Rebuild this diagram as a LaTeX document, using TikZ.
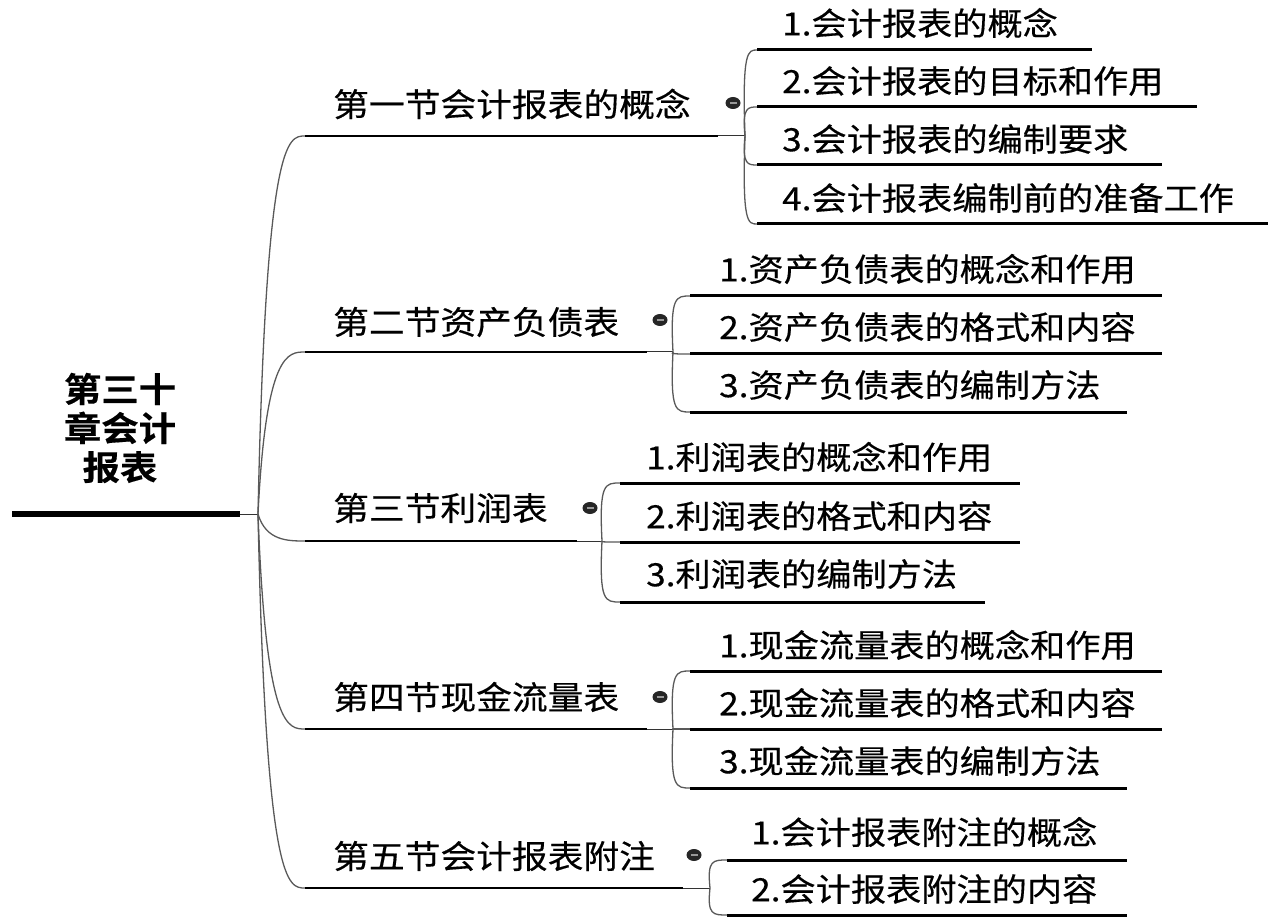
\documentclass[tikz,border=0pt]{standalone}
\usepackage{fontspec}
\setmainfont{Noto Sans CJK SC}[BoldFont={Noto Sans CJK SC Bold}, FakeStretch=1.1, FakeBold=0.4]
\usepackage{tikz}
\usetikzlibrary{calc}
\usetikzlibrary{shapes.geometric}
\newcommand{\limb}[2]{\draw[limb] (#1) .. controls ($(#1 |- #2)+(8,0)$) and ($(#2)+(-17,0)$) .. (#2);}
\newcommand{\twig}[2]{\draw[twig] (#1) .. controls ($(#1 |- #2)+(-3,0)$) and ($(#1 |- #2)+(3,0)$) .. (#2);}
\tikzset{
  rootlbl/.style={align=center, inner sep=0pt, font=\fontsize{34}{39}\selectfont\bfseries},
  sect/.style={anchor=west, inner sep=0pt, font=\fontsize{32.5}{33}\selectfont},
  leaf/.style={anchor=west, inner sep=0pt, font=\fontsize{32}{32}\selectfont},
  trunk/.style={line width=6pt},
  stub/.style={line width=1pt, draw=black!80},
  limb/.style={line width=1.3pt, draw=black!65},
  twig/.style={line width=1.3pt, draw=black!65},
  sline/.style={line width=2pt},
  cline/.style={line width=3pt},
  fold/.style={ellipse, minimum width=15pt, minimum height=12pt, inner sep=0pt, fill=black!85,
    path picture={\draw[black!40, line width=1.3pt] ([xshift=-3.5pt]path picture bounding box.center) -- ([xshift=3.5pt]path picture bounding box.center);}}
}
\begin{document}
\begin{tikzpicture}[x=1pt,y=-1pt]
\useasboundingbox (0,0) rectangle (1272,917);
\node[rootlbl] (root) at (120,428) {第三十\\章会计\\报表};
\coordinate (r0) at (12,514);
\coordinate (r1) at (240,514);
\coordinate (rj) at (258,514);
\draw[trunk] (r0) -- (r1);
\draw[stub] (r1) -- (rj);

% first section
\node[sect] (s1) at (333,104) {第一节会计报表的概念};
\node[fold] (f1) at (733,103) {};
\coordinate (s1l) at (305,136);
\coordinate (s1r) at (718,136);
\coordinate (s1j) at (745,136);
\limb{rj}{s1l}
\draw[sline] (s1l) -- (s1r);
\draw[stub] (s1r) -- (s1j);
\node[leaf] (s1a) at (782,23) {1.会计报表的概念};
\node[leaf] (s1b) at (782,81) {2.会计报表的目标和作用};
\node[leaf] (s1c) at (782,139) {3.会计报表的编制要求};
\node[leaf] (s1d) at (782,198) {4.会计报表编制前的准备工作};
\coordinate (s1al) at (757,50);  \coordinate (s1ar) at (1092,50);
\coordinate (s1bl) at (757,107); \coordinate (s1br) at (1197,107);
\coordinate (s1cl) at (757,165); \coordinate (s1cr) at (1162,165);
\coordinate (s1dl) at (757,224); \coordinate (s1dr) at (1268,224);
\twig{s1j}{s1al} \twig{s1j}{s1bl} \twig{s1j}{s1cl} \twig{s1j}{s1dl}
\draw[cline] (s1al) -- (s1ar);
\draw[cline] (s1bl) -- (s1br);
\draw[cline] (s1cl) -- (s1cr);
\draw[cline] (s1dl) -- (s1dr);

% second section
\node[sect] (s2) at (333,322) {第二节资产负债表};
\node[fold] (f2) at (660,320) {};
\coordinate (s2l) at (305,352);
\coordinate (s2r) at (647,352);
\coordinate (s2j) at (673,352);
\limb{rj}{s2l}
\draw[sline] (s2l) -- (s2r);
\draw[stub] (s2r) -- (s2j);
\node[leaf] (s2a) at (719,269) {1.资产负债表的概念和作用};
\node[leaf] (s2b) at (719,327) {2.资产负债表的格式和内容};
\node[leaf] (s2c) at (719,385) {3.资产负债表的编制方法};
\coordinate (s2al) at (690,296); \coordinate (s2ar) at (1162,296);
\coordinate (s2bl) at (690,354); \coordinate (s2br) at (1162,354);
\coordinate (s2cl) at (690,412); \coordinate (s2cr) at (1127,412);
\twig{s2j}{s2al} \twig{s2j}{s2bl} \twig{s2j}{s2cl}
\draw[cline] (s2al) -- (s2ar);
\draw[cline] (s2bl) -- (s2br);
\draw[cline] (s2cl) -- (s2cr);

% third section
\node[sect] (s3) at (333,508) {第三节利润表};
\node[fold] (f3) at (590,508) {};
\coordinate (s3l) at (305,541);
\coordinate (s3r) at (577,541);
\coordinate (s3j) at (602,541);
\limb{rj}{s3l}
\draw[sline] (s3l) -- (s3r);
\draw[stub] (s3r) -- (s3j);
\node[leaf] (s3a) at (646,457) {1.利润表的概念和作用};
\node[leaf] (s3b) at (646,516) {2.利润表的格式和内容};
\node[leaf] (s3c) at (646,574) {3.利润表的编制方法};
\coordinate (s3al) at (620,483); \coordinate (s3ar) at (1020,483);
\coordinate (s3bl) at (620,542); \coordinate (s3br) at (1020,542);
\coordinate (s3cl) at (620,602); \coordinate (s3cr) at (985,602);
\twig{s3j}{s3al} \twig{s3j}{s3bl} \twig{s3j}{s3cl}
\draw[cline] (s3al) -- (s3ar);
\draw[cline] (s3bl) -- (s3br);
\draw[cline] (s3cl) -- (s3cr);

% fourth section
\node[sect] (s4) at (333,697) {第四节现金流量表};
\node[fold] (f4) at (660,697) {};
\coordinate (s4l) at (305,729);
\coordinate (s4r) at (647,729);
\coordinate (s4j) at (673,729);
\limb{rj}{s4l}
\draw[sline] (s4l) -- (s4r);
\draw[stub] (s4r) -- (s4j);
\node[leaf] (s4a) at (719,645) {1.现金流量表的概念和作用};
\node[leaf] (s4b) at (719,703) {2.现金流量表的格式和内容};
\node[leaf] (s4c) at (719,761) {3.现金流量表的编制方法};
\coordinate (s4al) at (690,671); \coordinate (s4ar) at (1162,671);
\coordinate (s4bl) at (690,729); \coordinate (s4br) at (1162,729);
\coordinate (s4cl) at (690,788); \coordinate (s4cr) at (1127,788);
\twig{s4j}{s4al} \twig{s4j}{s4bl} \twig{s4j}{s4cl}
\draw[cline] (s4al) -- (s4ar);
\draw[cline] (s4bl) -- (s4br);
\draw[cline] (s4cl) -- (s4cr);

% fifth section
\node[sect] (s5) at (333,856) {第五节会计报表附注};
\node[fold] (f5) at (694,855) {};
\coordinate (s5l) at (305,888);
\coordinate (s5r) at (683,888);
\coordinate (s5j) at (710,888);
\limb{rj}{s5l}
\draw[sline] (s5l) -- (s5r);
\draw[stub] (s5r) -- (s5j);
\node[leaf] (s5a) at (751,832) {1.会计报表附注的概念};
\node[leaf] (s5b) at (751,889) {2.会计报表附注的内容};
\coordinate (s5al) at (727,860); \coordinate (s5ar) at (1127,860);
\coordinate (s5bl) at (727,915); \coordinate (s5br) at (1127,915);
\twig{s5j}{s5al} \twig{s5j}{s5bl}
\draw[cline] (s5al) -- (s5ar);
\draw[cline] (s5bl) -- (s5br);
\end{tikzpicture}
\end{document}
